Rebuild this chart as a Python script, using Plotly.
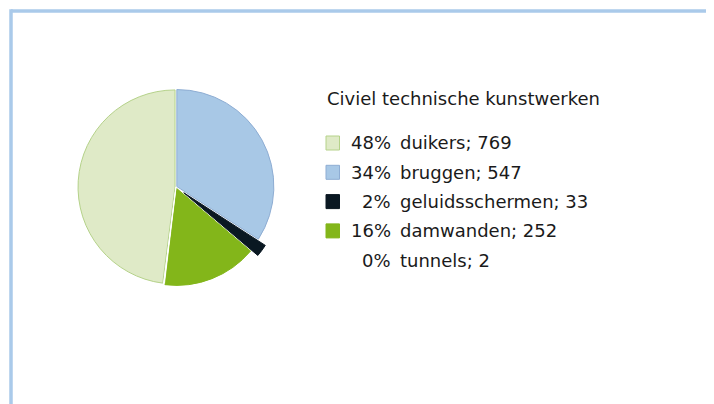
import plotly.graph_objects as go

# data
labels = ["duikers", "bruggen", "geluidsschermen", "damwanden", "tunnels"]
values = [769, 547, 33, 252, 2]
colors = ["#dfeac7", "#a8c8e6", "#0a1822", "#83b61a", "#ffffff"]
edge_colors = ["#b5d28a", "#8eadd3", "#0a1822", "#83b61a", "#ffffff"]
pulls = [0.01, 0.01, 0.1, 0.015, 0.0]
title_text = "Civiel technische kunstwerken"

total = sum(values)
pcts = [round(v / total * 100) for v in values]

# page body has an 8px margin, so the figure is sized to fill the rest of the window
OFF = 8
W, H = 714 - OFF, 404 - OFF
font = "DejaVu Sans"


def px(x):
    return (x - OFF) / W


def py(y):
    return 1 - (y - OFF) / H


fig = go.Figure()

# pie chart, duikers ending at 12 o'clock
fig.add_trace(
    go.Pie(
        labels=labels,
        values=values,
        sort=False,
        direction="clockwise",
        rotation=360 - values[0] / total * 360,
        pull=pulls,
        marker=dict(colors=colors, line=dict(color=edge_colors, width=1)),
        textinfo="none",
        hoverinfo="label+value+percent",
        showlegend=False,
        domain=dict(x=[px(69.3), px(282.7)], y=[py(293.7), py(80.3)]),
    )
)

shapes = []
annotations = []

# frame lines (top and left)
shapes.append(dict(type="line", xref="paper", yref="paper",
                   x0=px(11), x1=1, y0=py(11), y1=py(11),
                   line=dict(color="#aacaea", width=3.5)))
shapes.append(dict(type="line", xref="paper", yref="paper",
                   x0=px(11), x1=px(11), y0=0, y1=py(9.3),
                   line=dict(color="#aacaea", width=3.5)))

# legend title
annotations.append(dict(text=title_text, x=px(325), y=py(98), xref="paper", yref="paper",
                        xanchor="left", yanchor="middle", showarrow=False,
                        font=dict(family=font, size=18, color="#1a1a1a")))

# custom legend rows
y0, step = 143, 29.3
for i, (lab, v, p, c, ec) in enumerate(zip(labels, values, pcts, colors, edge_colors)):
    yc = y0 + i * step
    shapes.append(dict(type="rect", xref="paper", yref="paper",
                       x0=px(326), x1=px(339.5), y0=py(yc + 7), y1=py(yc - 7),
                       fillcolor=c, line=dict(color=ec, width=1)))
    annotations.append(dict(text=f"{p}%", x=px(393), y=py(yc), xref="paper", yref="paper",
                            xanchor="right", yanchor="middle", showarrow=False,
                            font=dict(family=font, size=18, color="#1a1a1a")))
    annotations.append(dict(text=f"{lab}; {v}", x=px(398), y=py(yc), xref="paper", yref="paper",
                            xanchor="left", yanchor="middle", showarrow=False,
                            font=dict(family=font, size=18, color="#1a1a1a")))

fig.update_layout(
    width=W,
    height=H,
    margin=dict(l=0, r=0, t=0, b=0),
    paper_bgcolor="white",
    plot_bgcolor="white",
    shapes=shapes,
    annotations=annotations,
    font_family=font,
)

fig.write_html("out.html")
